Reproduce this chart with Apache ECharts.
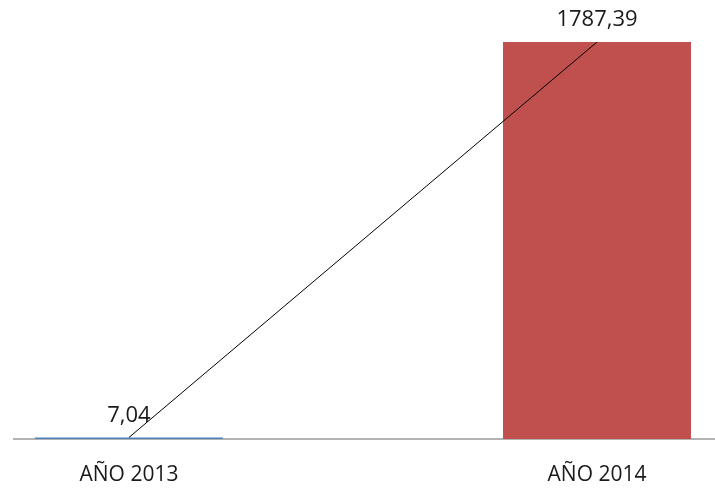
<!DOCTYPE html>
<html>
<head>
<meta charset="utf-8">
<script src="https://cdn.jsdelivr.net/npm/echarts@6/dist/echarts.min.js"></script>
<style>
  html, body { margin: 0; padding: 0; background: #ffffff; }
  #chart { width: 715px; height: 488px; }
</style>
</head>
<body>
<div id="chart"></div>
<script>
// Yearly totals
const categories = ['AÑO 2013', 'AÑO 2014'];
const values = [7.04, 1787.39];
const barColors = ['#4F81BD', '#C0504D'];

function fmt(v) {
  return v.toFixed(2).replace('.', ',');
}

// Each category sits at its index on a numeric x scale; the visible range
// is wider on both sides so the bars leave the outer margins seen in the plot.
const xMin = -0.2756;
const xMax = 1.2521;

const chart = echarts.init(document.getElementById('chart'), null, { renderer: 'canvas' });

chart.setOption({
  animation: false,
  backgroundColor: '#ffffff',
  textStyle: { fontFamily: '"Open Sans", sans-serif' },
  grid: { left: 0, right: 0, top: 42, bottom: 49 },
  xAxis: {
    type: 'value',
    min: xMin,
    max: xMax,
    axisLine: { show: false },
    axisTick: { show: false },
    splitLine: { show: false },
    axisLabel: {
      customValues: categories.map((c, i) => i),
      formatter: v => categories[Math.round(v)],
      color: '#1a1a1a',
      fontSize: 21,
      margin: 26,
      fontFamily: '"Open Sans", sans-serif'
    }
  },
  yAxis: {
    type: 'value',
    min: 0,
    max: 1787.39,
    show: false,
    splitLine: { show: false }
  },
  graphic: [{
    type: 'line',
    shape: { x1: 13, y1: 439, x2: 715, y2: 439 },
    style: { stroke: '#9a9a9a', lineWidth: 1.5 },
    z: 1
  }],
  series: [
    {
      type: 'bar',
      barWidth: 188,
      z: 2,
      data: values.map((v, i) => ({ value: [i, v], itemStyle: { color: barColors[i] } })),
      label: {
        show: true,
        position: 'top',
        distance: 11,
        color: '#1a1a1a',
        fontSize: 22,
        fontFamily: '"Open Sans", sans-serif',
        formatter: p => fmt(p.value[1])
      }
    },
    {
      type: 'line',
      data: values.map((v, i) => [i, v]),
      symbol: 'none',
      z: 3,
      lineStyle: { color: '#000000', width: 1 }
    }
  ]
});
</script>
</body>
</html>
